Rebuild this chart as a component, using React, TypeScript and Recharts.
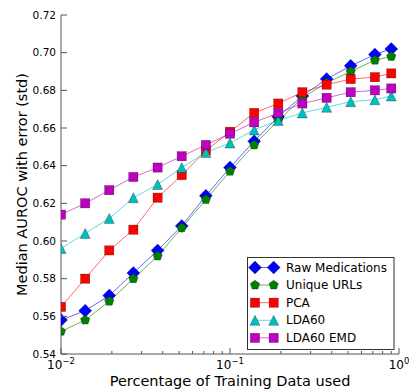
import { LineChart, Line, XAxis, YAxis, Legend, Label } from "recharts";

// fraction of training data (x, log scale)
const FRACTIONS = [0.01, 0.0139, 0.0193, 0.0268, 0.0373, 0.0518, 0.072, 0.1, 0.139, 0.193, 0.268, 0.373, 0.518, 0.72, 0.9];

const RAW_MEDICATIONS = [0.558, 0.563, 0.571, 0.583, 0.595, 0.608, 0.624, 0.639, 0.653, 0.666, 0.677, 0.686, 0.693, 0.699, 0.702];
const UNIQUE_URLS = [0.552, 0.558, 0.568, 0.58, 0.592, 0.607, 0.622, 0.637, 0.651, 0.664, 0.676, 0.684, 0.69, 0.696, 0.698];
const PCA = [0.565, 0.58, 0.595, 0.606, 0.623, 0.635, 0.648, 0.658, 0.668, 0.673, 0.679, 0.683, 0.686, 0.687, 0.689];
const LDA60 = [0.596, 0.604, 0.612, 0.623, 0.63, 0.639, 0.647, 0.652, 0.659, 0.664, 0.668, 0.671, 0.674, 0.675, 0.677];
const LDA60_EMD = [0.614, 0.62, 0.627, 0.634, 0.639, 0.645, 0.651, 0.657, 0.663, 0.668, 0.673, 0.676, 0.679, 0.68, 0.681];

const X_TICKS = [
  0.01, 0.02, 0.03, 0.04, 0.05, 0.06, 0.07, 0.08, 0.09,
  0.1, 0.2, 0.3, 0.4, 0.5, 0.6, 0.7, 0.8, 0.9, 1,
];
const Y_TICKS = [0.54, 0.56, 0.58, 0.6, 0.62, 0.64, 0.66, 0.68, 0.7, 0.72];

const SERIES = [
  { key: "raw", name: "Raw Medications", color: "#0000ff", marker: "diamond", values: RAW_MEDICATIONS },
  { key: "urls", name: "Unique URLs", color: "#008000", marker: "pentagon", values: UNIQUE_URLS },
  { key: "pca", name: "PCA", color: "#ff0000", marker: "square", values: PCA },
  { key: "lda", name: "LDA60", color: "#00bfbf", marker: "triangle", values: LDA60 },
  { key: "emd", name: "LDA60 EMD", color: "#bf00bf", marker: "square", values: LDA60_EMD },
];

const data = FRACTIONS.map((x, i) => {
  const row: Record<string, number> = { x };
  SERIES.forEach((s) => (row[s.key] = s.values[i]));
  return row;
});

const FRAME = "#555";

function Marker({ shape, cx, cy, color }: { shape: string; cx: number; cy: number; color: string }) {
  const edge = { stroke: "#000", strokeWidth: 0.5, strokeOpacity: 0.55, fill: color };
  if (shape === "diamond") {
    const r = 6.5;
    return <polygon points={`${cx},${cy - r} ${cx + r},${cy} ${cx},${cy + r} ${cx - r},${cy}`} {...edge} />;
  }
  if (shape === "pentagon") {
    const r = 4.9;
    const pts = [0, 1, 2, 3, 4]
      .map((k) => {
        const a = ((-90 + k * 72) * Math.PI) / 180;
        return `${cx + r * Math.cos(a)},${cy + r * Math.sin(a)}`;
      })
      .join(" ");
    return <polygon points={pts} {...edge} />;
  }
  if (shape === "triangle") {
    const r = 5;
    return <polygon points={`${cx},${cy - r} ${cx - r},${cy + r} ${cx + r},${cy + r}`} {...edge} />;
  }
  const h = 4.6;
  return <rect x={cx - h} y={cy - h} width={2 * h} height={2 * h} {...edge} />;
}

function isMajor(v: number) {
  const l = Math.log10(v);
  return Math.abs(l - Math.round(l)) < 1e-6;
}

function BottomTick({ x, y, payload }: any) {
  const v = payload.value;
  const major = isMajor(v);
  const exp = Math.round(Math.log10(v));
  return (
    <g>
      <line x1={x} x2={x} y1={y} y2={y - (major ? 6 : 3)} stroke={FRAME} />
      {major && (
        <text x={x} y={y + 15} textAnchor="middle" fontSize={12} fill="#000">
          10
          <tspan dy={-5} fontSize={8.5}>
            {exp < 0 ? `\u2212${-exp}` : `${exp}`}
          </tspan>
        </text>
      )}
    </g>
  );
}

function TopTick({ x, y, payload }: any) {
  const major = isMajor(payload.value);
  return <line x1={x} x2={x} y1={y} y2={y + (major ? 6 : 3)} stroke={FRAME} />;
}

function LeftTick({ x, y, payload }: any) {
  return (
    <g>
      <line x1={x} x2={x + 6} y1={y} y2={y} stroke={FRAME} />
      <text x={x - 5} y={y} dy="0.36em" textAnchor="end" fontSize={10.5} fill="#000">
        {payload.value.toFixed(2)}
      </text>
    </g>
  );
}

function RightTick({ x, y }: any) {
  return <line x1={x} x2={x - 6} y1={y} y2={y} stroke={FRAME} />;
}

function renderYLabel({ viewBox }: any) {
  const cx = viewBox.x + 22;
  const cy = viewBox.y + viewBox.height / 2;
  return (
    <text x={cx} y={cy} transform={`rotate(-90 ${cx} ${cy})`} textAnchor="middle" dominantBaseline="central" fontSize={14.5} fill="#000">
      Median AUROC with error (std)
    </text>
  );
}

function renderXLabel({ viewBox }: any) {
  const cx = viewBox.x + viewBox.width / 2;
  const cy = viewBox.y + 27;
  return (
    <text x={cx} y={cy} textAnchor="middle" dominantBaseline="central" fontSize={14.5} fill="#000">
      Percentage of Training Data used
    </text>
  );
}

function LegendBox() {
  return (
    <svg width={148} height={94} style={{ display: "block" }}>
      <rect x={0.5} y={0.5} width={146.5} height={92} fill="#fff" stroke="#333" />
      {SERIES.map((s, i) => {
        const cy = 10.5 + i * 17.6;
        return (
          <g key={s.key}>
            <line x1={8} x2={26.7} y1={cy} y2={cy} stroke={s.color} strokeOpacity={0.6} />
            <Marker shape={s.marker} cx={8} cy={cy} color={s.color} />
            <Marker shape={s.marker} cx={26.7} cy={cy} color={s.color} />
            <text x={39} y={cy} dominantBaseline="central" fontSize={12} fill="#000">
              {s.name}
            </text>
          </g>
        );
      })}
    </svg>
  );
}

export default function App() {
  return (
    <div style={{ position: "absolute", left: 0, top: 0, fontFamily: "DejaVu Sans", background: "#fff" }}>
      <LineChart width={409} height={390} data={data} margin={{ top: 15, right: 10, bottom: 0, left: 0 }}>
        <XAxis
          dataKey="x"
          type="number"
          scale="log"
          domain={[0.01, 1]}
          ticks={X_TICKS}
          interval={0}
          allowDataOverflow
          tickSize={0}
          tickMargin={0}
          tickLine={false}
          tick={BottomTick}
          axisLine={{ stroke: FRAME }}
          height={36}
        >
          <Label content={renderXLabel} />
        </XAxis>
        <XAxis
          xAxisId="top"
          orientation="top"
          dataKey="x"
          type="number"
          scale="log"
          domain={[0.01, 1]}
          ticks={X_TICKS}
          interval={0}
          allowDataOverflow
          tickSize={0}
          tickMargin={0}
          tickLine={false}
          tick={TopTick}
          axisLine={{ stroke: FRAME }}
          height={0}
        />
        <YAxis
          type="number"
          domain={[0.54, 0.72]}
          ticks={Y_TICKS}
          interval={0}
          allowDataOverflow
          tickSize={0}
          tickMargin={0}
          tickLine={false}
          tick={LeftTick}
          axisLine={{ stroke: FRAME }}
          width={61}
        >
          <Label content={renderYLabel} />
        </YAxis>
        <YAxis
          yAxisId="right"
          orientation="right"
          type="number"
          domain={[0.54, 0.72]}
          ticks={Y_TICKS}
          interval={0}
          allowDataOverflow
          tickSize={0}
          tickMargin={0}
          tickLine={false}
          tick={RightTick}
          axisLine={{ stroke: FRAME }}
          width={0}
        />
        <Legend
          layout="vertical"
          align="center"
          verticalAlign="middle"
          wrapperStyle={{ left: 247, top: 257, width: 148, height: 94 }}
          content={() => <LegendBox />}
        />
        {SERIES.map((s) => (
          <Line
            key={s.key}
            dataKey={s.key}
            name={s.name}
            type="linear"
            stroke={s.color}
            strokeOpacity={0.6}
            strokeWidth={1}
            isAnimationActive={false}
            dot={(p: any) => <Marker key={`${s.key}-${p.index}`} shape={s.marker} cx={p.cx} cy={p.cy} color={s.color} />}
            activeDot={false}
          />
        ))}
      </LineChart>
    </div>
  );
}
